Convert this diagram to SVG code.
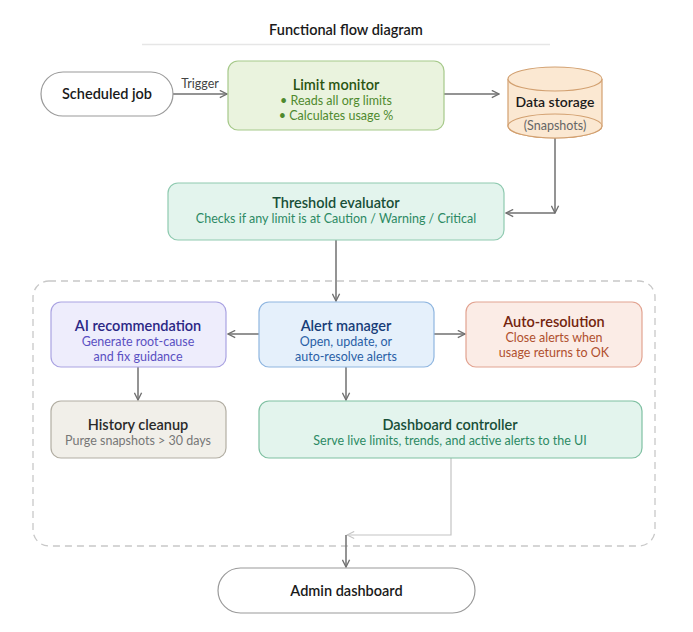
<svg xmlns="http://www.w3.org/2000/svg" width="693" height="632" viewBox="0 0 693 632">
<defs>
<marker id="arr" viewBox="0 0 10 10" refX="9" refY="5" markerWidth="9" markerHeight="9" orient="auto" markerUnits="userSpaceOnUse">
<path d="M1,1 L9,5 L1,9" fill="none" stroke="#707070" stroke-width="1.5"/>
</marker>
<marker id="arrL" viewBox="0 0 10 10" refX="9" refY="5" markerWidth="9" markerHeight="9" orient="auto" markerUnits="userSpaceOnUse">
<path d="M1,1 L9,5 L1,9" fill="none" stroke="#c4c4c4" stroke-width="1.2"/>
</marker>
</defs>
<style>
text{font-family:Lato,"Open Sans","Liberation Sans",sans-serif;text-anchor:middle}
.t{font-size:14.5px;font-weight:600}
.s{font-size:12.5px}
.e{fill:none;stroke:#707070;stroke-width:1.5}
.el{fill:none;stroke:#c4c4c4;stroke-width:1.2}
</style>
<rect width="693" height="632" fill="#ffffff"/>
<text x="346" y="35" class="t" fill="#1a1a1a">Functional flow diagram</text>
<line x1="142" y1="44.5" x2="550" y2="44.5" stroke="#e6e6e6" stroke-width="1.5"/>
<g id="cluster">
<rect x="33" y="281" width="622" height="265" rx="16" fill="none" stroke="#c8c8c8" stroke-width="1.3" stroke-dasharray="7,5"/>
</g>
<g id="connectors">
<line x1="173" y1="94" x2="227" y2="94" class="e" marker-end="url(#arr)"/>
<text x="200" y="88" class="s" fill="#444">Trigger</text>
<line x1="444" y1="94" x2="499" y2="94" class="e" marker-end="url(#arr)"/>
<polyline points="555,138 555,213" class="e" marker-end="url(#arr)"/>
<line x1="555" y1="213" x2="506" y2="213" class="e" marker-end="url(#arr)"/>
<line x1="336" y1="240" x2="336" y2="301" class="e" marker-end="url(#arr)"/>
<line x1="259" y1="334" x2="228" y2="334" class="e" marker-end="url(#arr)"/>
<line x1="434" y1="334" x2="465" y2="334" class="e" marker-end="url(#arr)"/>
<line x1="138" y1="367" x2="138" y2="400" class="e" marker-end="url(#arr)"/>
<line x1="346" y1="367" x2="346" y2="400" class="e" marker-end="url(#arr)"/>
<polyline points="451,458 451,535 347,535" class="el" marker-end="url(#arrL)"/>
<line x1="346" y1="535" x2="346" y2="567" class="e" marker-end="url(#arr)"/>
</g>
<g id="scheduled-job">
<rect x="41" y="72" width="132" height="44" rx="22" fill="#fff" stroke="#9a9a9a" stroke-width="1.2"/>
<text x="107" y="99" class="t" fill="#1a1a1a">Scheduled job</text>
</g>
<g id="limit-monitor">
<rect x="228" y="61" width="216" height="69" rx="10" fill="#eaf3de" stroke="#a6c98a" stroke-width="1.2"/>
<text x="336" y="90" class="t" fill="#2a5512">Limit monitor</text>
<text x="336" y="105" class="s" fill="#4f8a2e">• Reads all org limits</text>
<text x="336" y="120" class="s" fill="#4f8a2e">• Calculates usage %</text>
</g>
<g id="data-storage">
<path d="M508,79 L508,126 A47,12 0 0 0 602,126 L602,79" fill="#fbe8d2" stroke="#d2a070" stroke-width="1.2"/>
<ellipse cx="555" cy="126" rx="47" ry="12" fill="#fbe8d2" stroke="#d2a070" stroke-width="1.2"/>
<ellipse cx="555" cy="79" rx="47" ry="12" fill="#fbe8d2" stroke="#d2a070" stroke-width="1.2"/>
<text x="555" y="107" style="font-size:14px;font-weight:600" fill="#1a1a1a">Data storage</text>
<text x="555" y="130" class="s" fill="#666">(Snapshots)</text>
</g>
<g id="threshold-evaluator">
<rect x="168" y="183" width="336" height="57" rx="10" fill="#e3f4ed" stroke="#8fcab0" stroke-width="1.2"/>
<text x="336" y="208" class="t" fill="#184f38">Threshold evaluator</text>
<text x="336" y="223" class="s" fill="#2d8a64">Checks if any limit is at Caution / Warning / Critical</text>
</g>
<g id="ai-recommendation">
<rect x="51" y="302" width="175" height="65" rx="10" fill="#eeedfc" stroke="#aaa3e2" stroke-width="1.2"/>
<text x="138" y="331" class="t" fill="#2b2785">AI recommendation</text>
<text x="138" y="346" class="s" fill="#5a50c2">Generate root-cause</text>
<text x="138" y="361" class="s" fill="#5a50c2">and fix guidance</text>
</g>
<g id="alert-manager">
<rect x="259" y="302" width="175" height="65" rx="10" fill="#e5f0fb" stroke="#8fb6e0" stroke-width="1.2"/>
<text x="346" y="331" class="t" fill="#173d78">Alert manager</text>
<text x="346" y="346" class="s" fill="#2a5fa6">Open, update, or</text>
<text x="346" y="361" class="s" fill="#2a5fa6">auto-resolve alerts</text>
</g>
<g id="auto-resolution">
<rect x="466" y="302" width="176" height="65" rx="10" fill="#fbece6" stroke="#e2a391" stroke-width="1.2"/>
<text x="554" y="327" class="t" fill="#74240e">Auto-resolution</text>
<text x="554" y="342" class="s" fill="#b0502e">Close alerts when</text>
<text x="554" y="357" class="s" fill="#b0502e">usage returns to OK</text>
</g>
<g id="history-cleanup">
<rect x="51" y="401" width="175" height="57" rx="10" fill="#f1efe9" stroke="#b2aea3" stroke-width="1.2"/>
<text x="138" y="430" class="t" fill="#2a2a2a">History cleanup</text>
<text x="138" y="445" class="s" fill="#777">Purge snapshots &gt; 30 days</text>
</g>
<g id="dashboard-controller">
<rect x="259" y="401" width="383" height="57" rx="10" fill="#e3f4ed" stroke="#7fc0a2" stroke-width="1.2"/>
<text x="450" y="430" class="t" fill="#184f38">Dashboard controller</text>
<text x="450" y="445" class="s" fill="#2d8a64">Serve live limits, trends, and active alerts to the UI</text>
</g>
<g id="admin-dashboard">
<rect x="218" y="568" width="257" height="45" rx="22.5" fill="#fff" stroke="#9a9a9a" stroke-width="1.2"/>
<text x="346.5" y="596" class="t" fill="#1a1a1a">Admin dashboard</text>
</g>
</svg>
